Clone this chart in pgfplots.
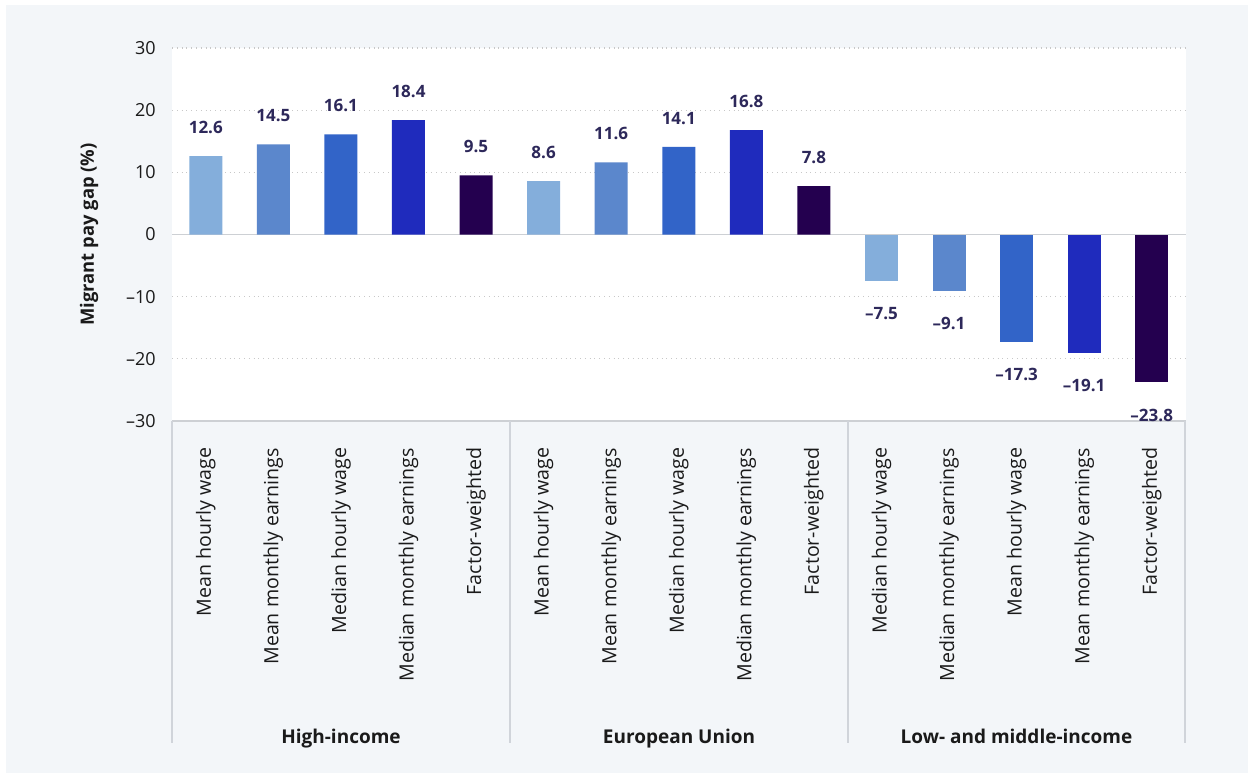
\documentclass[border=0pt]{standalone}
\usepackage{pgfplots}
\pgfplotsset{compat=1.18}
\usepackage{fontspec}
\setmainfont{Open Sans}
\definecolor{bgc}{RGB}{243,246,249}
\definecolor{sepc}{RGB}{208,212,218}
\definecolor{gridc}{RGB}{200,200,200}
\definecolor{zeroc}{RGB}{205,208,212}
\definecolor{lblc}{RGB}{45,40,90}
\definecolor{txtc}{RGB}{26,26,26}
\definecolor{ca}{RGB}{132,174,219}
\definecolor{cb}{RGB}{91,135,204}
\definecolor{cc}{RGB}{50,100,200}
\definecolor{cd}{RGB}{31,43,189}
\definecolor{ce}{RGB}{36,0,79}
\pgfplotsset{
  pos/.style={draw=none, fill=#1, nodes near coords,
    every node near coord/.style={anchor=south, inner xsep=0pt, inner ysep=11pt, font=\fontsize{8.5pt}{10pt}\selectfont\bfseries, text=lblc}},
  neg/.style={draw=none, fill=#1, nodes near coords,
    every node near coord/.style={anchor=north, inner xsep=0pt, inner ysep=13pt, font=\fontsize{8.5pt}{10pt}\selectfont\bfseries, text=lblc}},
}
\begin{document}
\begin{tikzpicture}
\useasboundingbox (0,0) rectangle (624pt,386.5pt);
\fill[white] (0,0) rectangle (624pt,386.5pt);
\fill[bgc] (3pt,0) rectangle (624pt,384pt);
\begin{axis}[
  at={(86pt,176pt)}, anchor=south west,
  scale only axis, width=506.75pt, height=186.5pt,
  xmin=-0.5, xmax=14.5, ymin=-30, ymax=30,
  ybar, bar width=16.5pt, bar shift=0pt,
  axis background/.style={fill=white},
  axis line style={draw=none},
  tick style={draw=none},
  ytick={-30,-20,-10,0,10,20,30},
  yticklabels={–30,–20,–10,0,10,20,30},
  yticklabel style={inner sep=0pt, anchor=east, xshift=-8pt, font=\fontsize{9pt}{10pt}\selectfont, text=txtc},
  ymajorgrids, grid style={gridc, dotted, line width=0.6pt},
  extra y ticks={-30,0}, extra y tick labels={},
  extra y tick style={grid style={zeroc, solid, line width=0.7pt}},
  xtick={0,...,14},
  xticklabels={Mean hourly wage, Mean monthly earnings, Median hourly wage, Median monthly earnings, Factor-weighted,
               Mean hourly wage, Mean monthly earnings, Median hourly wage, Median monthly earnings, Factor-weighted,
               Median hourly wage, Median monthly earnings, Mean hourly wage, Mean monthly earnings, Factor-weighted},
  xticklabel style={rotate=90, anchor=east, inner sep=0pt, font=\fontsize{9.8pt}{10pt}\selectfont, text=txtc},
  xticklabel shift=9pt,
  ylabel={\bfseries Migrant pay gap (\%)},
  every axis y label/.style={at={(rel axis cs:0,0.5)}, xshift=-41.5pt, rotate=90, anchor=center, font=\fontsize{9.2pt}{10pt}\selectfont\bfseries, text=txtc},
  point meta=explicit symbolic,
  clip=false,
]
\addplot[pos=ca] coordinates {(0,12.6)[12.6] (5,8.6)[8.6]};
\addplot[pos=cb] coordinates {(1,14.5)[14.5] (6,11.6)[11.6]};
\addplot[pos=cc] coordinates {(2,16.1)[16.1] (7,14.1)[14.1]};
\addplot[pos=cd] coordinates {(3,18.4)[18.4] (8,16.8)[16.8]};
\addplot[pos=ce] coordinates {(4,9.5)[9.5] (9,7.8)[7.8]};
\addplot[neg=ca] coordinates {(10,-7.5)[–7.5]};
\addplot[neg=cb] coordinates {(11,-9.1)[–9.1]};
\addplot[neg=cc] coordinates {(12,-17.3)[–17.3]};
\addplot[neg=cd] coordinates {(13,-19.1)[–19.1]};
\addplot[neg=ce] coordinates {(14,-23.8)[–23.8]};
\end{axis}
\foreach \x in {86,255,424,592.5} {\draw[sepc, line width=0.8pt] (\x pt,176pt) -- (\x pt,15pt);}
\begin{scope}[font=\fontsize{9.5pt}{10pt}\selectfont\bfseries, text=txtc]
\node[anchor=base, inner sep=0pt] at (170.5pt,15pt) {High-income};
\node[anchor=base, inner sep=0pt] at (339.5pt,15pt) {European Union};
\node[anchor=base, inner sep=0pt] at (508.25pt,15pt) {Low- and middle-income};
\end{scope}
\end{tikzpicture}
\end{document}
